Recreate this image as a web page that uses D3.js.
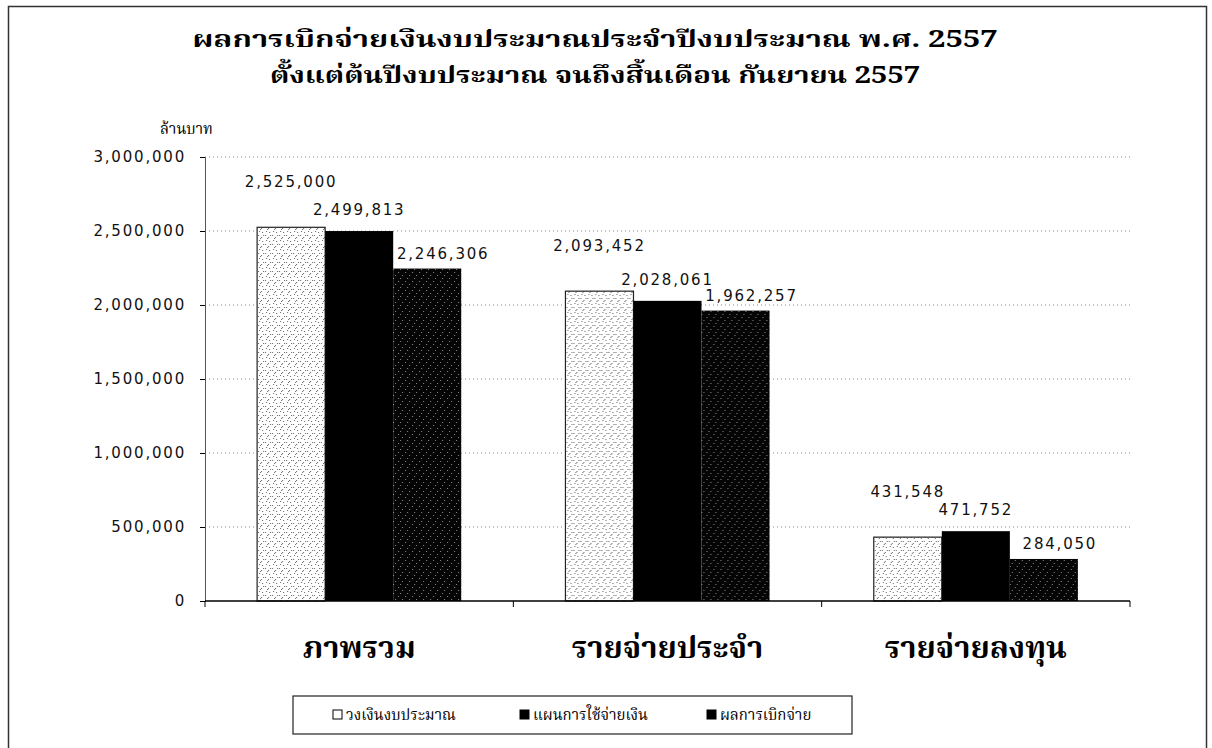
<!DOCTYPE html>
<html lang="th">
    <head>
        <meta charset="UTF-8">
        <style>
            html, body{
                margin: 0;
                padding: 0;
                width: 1212px;
                height: 748px;
                background: #fff;
                overflow: hidden;
            }
            .thai{ font-family: 'Noto Serif Thai', 'Noto Sans Thai Looped', 'Noto Sans Thai', 'Loma', 'Garuda', 'DejaVu Sans', sans-serif; }
            .num{ font-family: 'DejaVu Sans', sans-serif; font-size: 15px; letter-spacing: 1.8px; fill: #111; }
            .grid line{ stroke: #888; stroke-dasharray: 1 3; }
        </style>
    </head>
    <body>
        <svg id="chart" width="1212" height="748"></svg>

        <script src="https://d3js.org/d3.v7.min.js"></script>
        <script>
            // ---- data ----
            const categories = ['ภาพรวม', 'รายจ่ายประจำ', 'รายจ่ายลงทุน']
            const seriesNames = ['วงเงินงบประมาณ', 'แผนการใช้จ่ายเงิน', 'ผลการเบิกจ่าย']
            const budgetValues = [2525000, 2093452, 431548]
            const planValues = [2499813, 2028061, 471752]
            const paidValues = [2246306, 1962257, 284050]
            const yTickValues = [0, 500000, 1000000, 1500000, 2000000, 2500000, 3000000]
            const titleLines = ['ผลการเบิกจ่ายเงินงบประมาณประจำปีงบประมาณ พ.ศ. 2557', 'ตั้งแต่ต้นปีงบประมาณ จนถึงสิ้นเดือน กันยายน 2557']
            const unitLabel = 'ล้านบาท'

            const series = [budgetValues, planValues, paidValues]

            // ---- layout ----
            const plot = {left: 205, right: 1130, top: 157, bottom: 601}
            const fills = ['url(#speckLight)', '#000', 'url(#speckDark)']
            const labelDy = [-40, -16, -10]   // excel put the labels staggered
            const labelDx = [0, 0, 16]
            const titleWidths = [805, 650]

            const svg = d3.select('#chart')

            // frame around whole chart
            svg.append('rect')
                .attr('x', 8.5).attr('y', 6.5)
                .attr('width', 1198).attr('height', 780)
                .attr('fill', 'none').attr('stroke', '#333').attr('stroke-width', 1.5)

            // speckle textures for the scanned bars
            const defs = svg.append('defs')
            const light = defs.append('pattern').attr('id', 'speckLight')
                .attr('width', 7).attr('height', 9).attr('patternUnits', 'userSpaceOnUse')
            light.append('rect').attr('width', 7).attr('height', 9).attr('fill', '#fff')
            ;[[1, 1], [4, 3], [2, 6], [5, 7], [6, 1], [3, 4]].forEach(p => {
                light.append('rect').attr('x', p[0]).attr('y', p[1]).attr('width', 1).attr('height', 1).attr('fill', '#666')
            })
            const dark = defs.append('pattern').attr('id', 'speckDark')
                .attr('width', 7).attr('height', 9).attr('patternUnits', 'userSpaceOnUse')
            dark.append('rect').attr('width', 7).attr('height', 9).attr('fill', '#050505')
            ;[[1, 2], [5, 5], [3, 8]].forEach(p => {
                dark.append('rect').attr('x', p[0]).attr('y', p[1]).attr('width', 1).attr('height', 1).attr('fill', '#888')
            })

            // scales
            const x0 = d3.scaleBand().domain(categories)
                .range([plot.left, plot.right]).paddingInner(0.338).paddingOuter(0.169)
            const x1 = d3.scaleBand().domain(d3.range(series.length))
                .range([0, x0.bandwidth()])
            const y = d3.scaleLinear().domain([0, 3000000]).range([plot.bottom, plot.top])
            const fmt = d3.format(',')

            // title
            svg.append('g').selectAll('text').data(titleLines).join('text')
                .attr('class', 'thai')
                .attr('x', 595).attr('y', (d, i) => 47 + i * 36)
                .attr('text-anchor', 'middle')
                .attr('font-size', 23).attr('font-weight', 'bold')
                .attr('textLength', (d, i) => titleWidths[i])
                .attr('lengthAdjust', 'spacingAndGlyphs')
                .text(d => d)

            svg.append('text').attr('class', 'thai')
                .attr('x', 160).attr('y', 134)
                .attr('font-size', 15)
                .text(unitLabel)

            // gridlines
            svg.append('g').attr('class', 'grid')
                .selectAll('line').data(yTickValues.filter(v => v > 0)).join('line')
                .attr('x1', plot.left).attr('x2', plot.right)
                .attr('y1', d => y(d)).attr('y2', d => y(d))

            // y axis
            const yAxis = svg.append('g')
                .attr('transform', `translate(${plot.left},0)`)
                .call(d3.axisLeft(y).tickValues(yTickValues).tickFormat(fmt).tickSizeOuter(0).tickSize(5).tickPadding(14))
            yAxis.select('.domain').attr('stroke', '#555')
            yAxis.selectAll('text').attr('class', 'num').attr('font-size', null).attr('font-family', null)

            // bars
            const groups = svg.append('g').selectAll('g').data(categories).join('g')
                .attr('transform', d => `translate(${x0(d)},0)`)
            groups.selectAll('rect')
                .data((d, ci) => series.map((s, si) => ({si, v: s[ci]})))
                .join('rect')
                .attr('x', d => x1(d.si))
                .attr('y', d => y(d.v))
                .attr('width', x1.bandwidth())
                .attr('height', d => y(0) - y(d.v))
                .attr('fill', d => fills[d.si])
                .attr('stroke', d => d.si === 0 ? '#222' : 'none')
                .attr('stroke-width', 1.2)
            groups.selectAll('text')
                .data((d, ci) => series.map((s, si) => ({si, v: s[ci]})))
                .join('text')
                .attr('class', 'num')
                .attr('x', d => x1(d.si) + x1.bandwidth() / 2 + labelDx[d.si])
                .attr('y', d => y(d.v) + labelDy[d.si])
                .attr('text-anchor', 'middle')
                .text(d => fmt(d.v))

            // x axis, ticks between categories
            const xAxisG = svg.append('g').attr('transform', `translate(0,${plot.bottom})`)
            xAxisG.append('line').attr('x1', plot.left).attr('x2', plot.right)
                .attr('stroke', '#000').attr('stroke-width', 1.5)
            const step = x0.step()
            xAxisG.selectAll('line.tk').data(d3.range(categories.length + 1)).join('line')
                .attr('class', 'tk')
                .attr('x1', i => plot.left + i * step).attr('x2', i => plot.left + i * step)
                .attr('y1', 0).attr('y2', 6).attr('stroke', '#000')
            xAxisG.selectAll('text').data(categories).join('text')
                .attr('class', 'thai')
                .attr('x', d => x0(d) + x0.bandwidth() / 2)
                .attr('y', 57)
                .attr('text-anchor', 'middle')
                .attr('font-size', 31).attr('font-weight', 'bold')
                .text(d => d)

            // legend
            const legend = svg.append('g').attr('transform', 'translate(293,696)')
            legend.append('rect').attr('width', 559).attr('height', 38)
                .attr('fill', '#fff').attr('stroke', '#222').attr('stroke-width', 1.2)
            const items = legend.selectAll('g').data(seriesNames).join('g')
                .attr('transform', (d, i) => `translate(${40 + i * 187},19)`)
            items.append('rect')
                .attr('x', 0).attr('y', -5).attr('width', 9).attr('height', 9)
                .attr('fill', (d, i) => i === 0 ? '#fff' : '#000')
                .attr('stroke', '#000')
            items.append('text').attr('class', 'thai')
                .attr('x', 13).attr('y', 5)
                .attr('font-size', 15)
                .text(d => d)
        </script>
    </body>
</html>
